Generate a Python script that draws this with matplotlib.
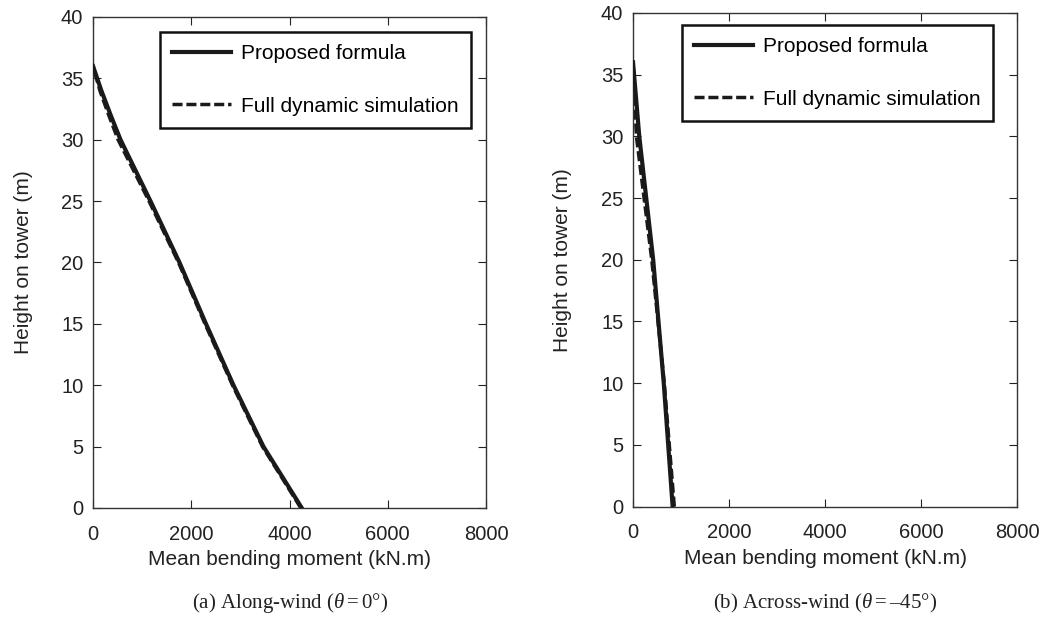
import matplotlib.pyplot as plt

plt.rcParams['font.family'] = 'Liberation Sans'
plt.rcParams['mathtext.fontset'] = 'custom'
plt.rcParams['mathtext.rm'] = 'Liberation Serif'
plt.rcParams['mathtext.it'] = 'Liberation Serif:italic'

# (a) along-wind
h_a_prop = [0, 5, 10, 15, 20, 25, 30, 32, 34, 36]
m_a_prop = [4250, 3470, 2860, 2300, 1760, 1170, 560, 360, 170, 0]
h_a_sim = [0, 5, 10, 15, 20, 25, 30, 32, 34, 36]
m_a_sim = [4230, 3450, 2840, 2280, 1740, 1140, 510, 320, 140, 0]

# (b) across-wind
h_b_prop = [0, 10, 20, 30, 36]
m_b_prop = [825, 640, 420, 130, 0]
h_b_sim = [0, 10, 20, 25, 30, 36]
m_b_sim = [860, 650, 390, 230, 70, 0]

xticks = [0, 2000, 4000, 6000, 8000]
yticks = [0, 5, 10, 15, 20, 25, 30, 35, 40]

fig = plt.figure(figsize=(10.57, 6.17), dpi=100)
ax1 = fig.add_axes([0.088, 0.1767, 0.3718, 0.7958])
ax2 = fig.add_axes([0.5989, 0.179, 0.3633, 0.800])

col = '#1a1a1a'
panels = [
    (ax1, h_a_prop, m_a_prop, h_a_sim, m_a_sim, (0.962, 0.9695), -0.152,
     '(a) Along-wind $\\mathit{(\\theta{=}0}$°)', 290 / 1057),
    (ax2, h_b_prop, m_b_prop, h_b_sim, m_b_sim, (0.9375, 0.9757), -0.159,
     '(b) Across-wind $\\mathit{(\\theta{=}\u2013 45}$°)', 825 / 1057),
]

for ax, hp, mp, hs, ms, anchor, ylx, cap, cx in panels:
    ax.plot(mp, hp, color=col, linewidth=3.0, label='Proposed formula', zorder=3)
    ax.plot(ms, hs, color=col, linewidth=2.5, linestyle=(0, (2.9, 1.1)),
            label='Full dynamic simulation', zorder=2)
    ax.set_xlim(0, 8000)
    ax.set_ylim(0, 40)
    ax.set_xticks(xticks)
    ax.set_yticks(yticks)
    ax.tick_params(direction='in', top=True, right=True, length=6,
                   width=0.8, labelsize=14.5, colors='#222222')
    ax.tick_params(axis='x', pad=12)
    ax.tick_params(axis='y', pad=7)
    for s in ax.spines.values():
        s.set_linewidth(1.0)
        s.set_color('#333333')
    ax.set_xlabel('Mean bending moment (kN.m)', fontsize=15, color='#222222')
    ax.set_ylabel('Height on tower (m)', fontsize=15, color='#222222')
    ax.xaxis.set_label_coords(0.5, -0.085)
    ax.yaxis.set_label_coords(ylx, 0.5)
    leg = ax.legend(loc='upper right', bbox_to_anchor=anchor, borderaxespad=0,
                    fontsize=15, handlelength=2.8, handletextpad=0.5,
                    labelspacing=1.6, borderpad=0.6, fancybox=False,
                    framealpha=1, edgecolor='#111111')
    leg.get_frame().set_linewidth(1.8)
    fig.text(cx, 1 - 603 / 617, cap, ha='center', va='center', fontsize=15,
             fontfamily='Liberation Serif', color='#222222')

fig.savefig('out.png', dpi=100)
